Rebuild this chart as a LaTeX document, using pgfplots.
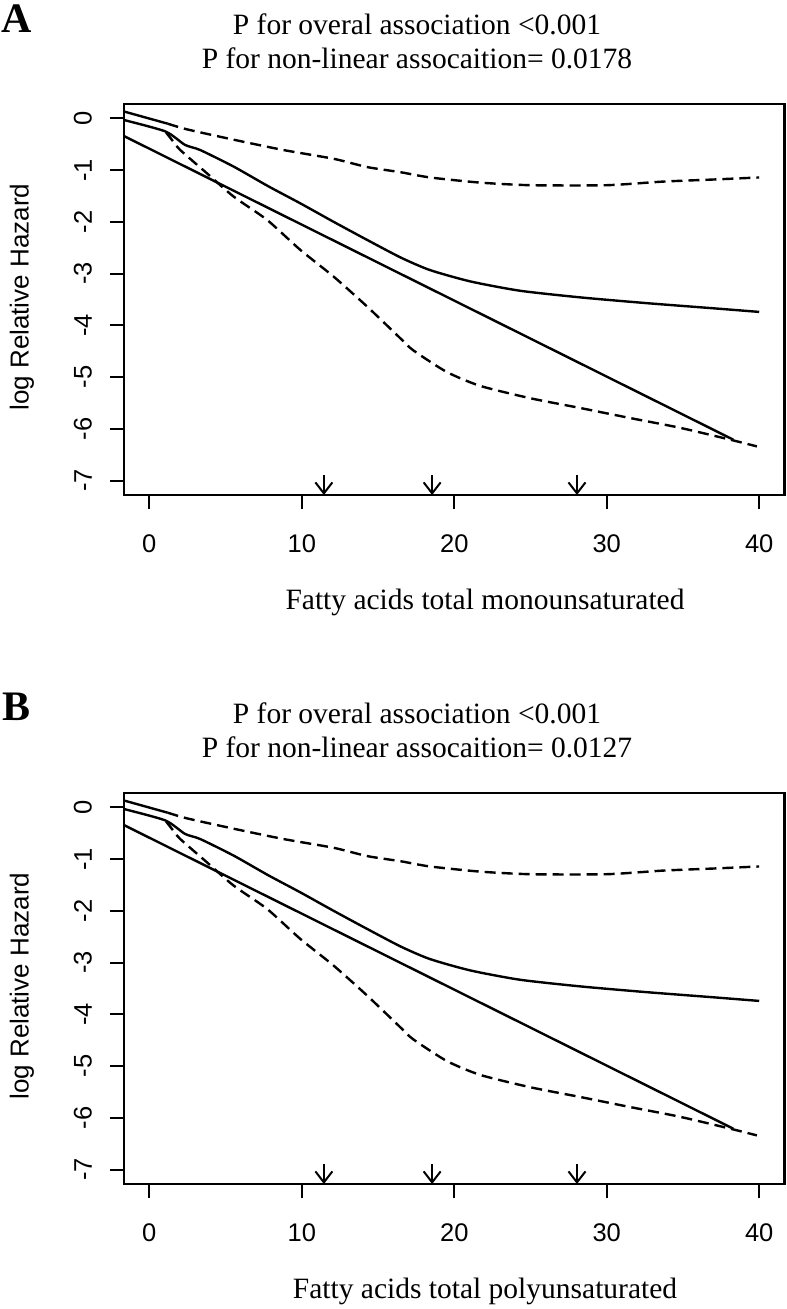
\documentclass[border=0pt]{standalone}
\usepackage{fontspec}
\setmainfont{Liberation Serif}
\newfontfamily\arial{Liberation Sans}
\usepackage{pgfplots}
\pgfplotsset{compat=1.18}
\usepackage{pgfplotstable}
\usetikzlibrary{arrows.meta}

% spline estimate
\pgfplotstableread{
x y
-1.66 -0.03
1.05 -0.25
2.34 -0.51
3.34 -0.61
5.53 -0.93
7.8 -1.31
9.9 -1.64
12.1 -2.0
14.3 -2.35
16.5 -2.69
18.4 -2.93
21.05 -3.15
24.3 -3.33
28.3 -3.46
32.6 -3.57
37.0 -3.67
40.0 -3.74
}\esttab

% upper confidence limit
\pgfplotstableread{
x y
1.2 -0.10
2.47 -0.21
5.53 -0.41
8.8 -0.61
12.1 -0.78
14.3 -0.94
16.5 -1.04
18.4 -1.14
21.7 -1.24
25.0 -1.29
30.0 -1.29
33.7 -1.22
37.0 -1.18
40.0 -1.14
}\uptab

% lower confidence limit
\pgfplotstableread{
x y
1.1 -0.27
1.5 -0.42
2.03 -0.61
3.78 -1.06
5.53 -1.51
7.72 -1.96
9.9 -2.54
12.1 -3.06
14.3 -3.64
16.5 -4.26
17.3 -4.48
19.5 -4.90
21.7 -5.17
25.0 -5.41
28.3 -5.60
31.5 -5.79
34.8 -5.98
38.1 -6.21
39.85 -6.34
}\lowtab

\pgfplotsset{
  rplot/.style={
    scale only axis, width=660.5pt, height=391pt, anchor=south west,
    xmin=-1.66, xmax=41.66, ymin=-7.28, ymax=0.28,
    xtick={0,10,20,30,40}, xticklabels={0,10,20,30,40},
    ytick={-7,-6,-5,-4,-3,-2,-1,0},
    yticklabels={-7,-6,-5,-4,-3,-2,-1,0},
    xtick pos=bottom, ytick pos=left,
    tick align=outside, major tick length=14pt,
    tick style={line width=2pt, black},
    axis line style={line width=2.3pt},
    ticklabel style={font=\arial\fontsize{25.5}{25.5}\selectfont, inner sep=0pt},
    xticklabel style={anchor=north, yshift=-25pt},
    % shift is along the rotated frame: +y points to the left
    yticklabel style={rotate=90, anchor=south, yshift=18pt},
    xlabel style={font=\fontsize{29.5}{30}\selectfont,
      at={(axis description cs:0.5466,-0.276)}, anchor=center},
    ylabel={log Relative Hazard},
    ylabel style={font=\arial\fontsize{26}{26}\selectfont,
      at={(axis description cs:-0.1544,0.506)}, anchor=center},
    title style={font=\fontsize{29.5}{33.3}\selectfont, align=center,
      at={(axis description cs:0.4436,1.145)}, anchor=center},
  },
  curve/.style={black, line width=2.4pt},
  ci/.style={black, line width=2.4pt, dash pattern=on 11pt off 6pt},
}

\begin{document}
\begin{tikzpicture}
\path[use as bounding box] (0pt,0pt) rectangle (787pt,-1309pt);

\begin{axis}[rplot, at={(124pt,-495pt)},
  title={P for overal association <0.001\\P for non-linear assocaition= 0.0178},
  xlabel={Fatty acids total monounsaturated}]
  \addplot[curve, smooth, tension=0.4] table {\esttab};
  \addplot[curve] coordinates {(-1.66,0.135) (1.2,-0.10)};
  \addplot[ci, smooth, tension=0.4] table {\uptab};
  \addplot[ci, smooth, tension=0.4] table {\lowtab};
  \addplot[curve] coordinates {(-1.66,-0.34) (38.3,-6.21)};
  \addplot[black, line width=2pt, -{Straight Barb[length=11pt,width=17pt]},
    quiver={u=0,v=-0.386}] coordinates {(11.45,-6.894) (18.55,-6.894) (28.05,-6.894)};
\end{axis}
\node[inner sep=0pt, font=\fontsize{42}{42}\bfseries\selectfont] at (16.5pt,-19pt) {A};

\begin{axis}[rplot, at={(124pt,-1184pt)},
  title={P for overal association <0.001\\P for non-linear assocaition= 0.0127},
  xlabel={Fatty acids total polyunsaturated}]
  \addplot[curve, smooth, tension=0.4] table {\esttab};
  \addplot[curve] coordinates {(-1.66,0.135) (1.2,-0.10)};
  \addplot[ci, smooth, tension=0.4] table {\uptab};
  \addplot[ci, smooth, tension=0.4] table {\lowtab};
  \addplot[curve] coordinates {(-1.66,-0.34) (38.3,-6.21)};
  \addplot[black, line width=2pt, -{Straight Barb[length=11pt,width=17pt]},
    quiver={u=0,v=-0.386}] coordinates {(11.45,-6.894) (18.55,-6.894) (28.05,-6.894)};
\end{axis}
\node[inner sep=0pt, font=\fontsize{42}{42}\bfseries\selectfont] at (16.5pt,-707pt) {B};
\end{tikzpicture}
\end{document}
